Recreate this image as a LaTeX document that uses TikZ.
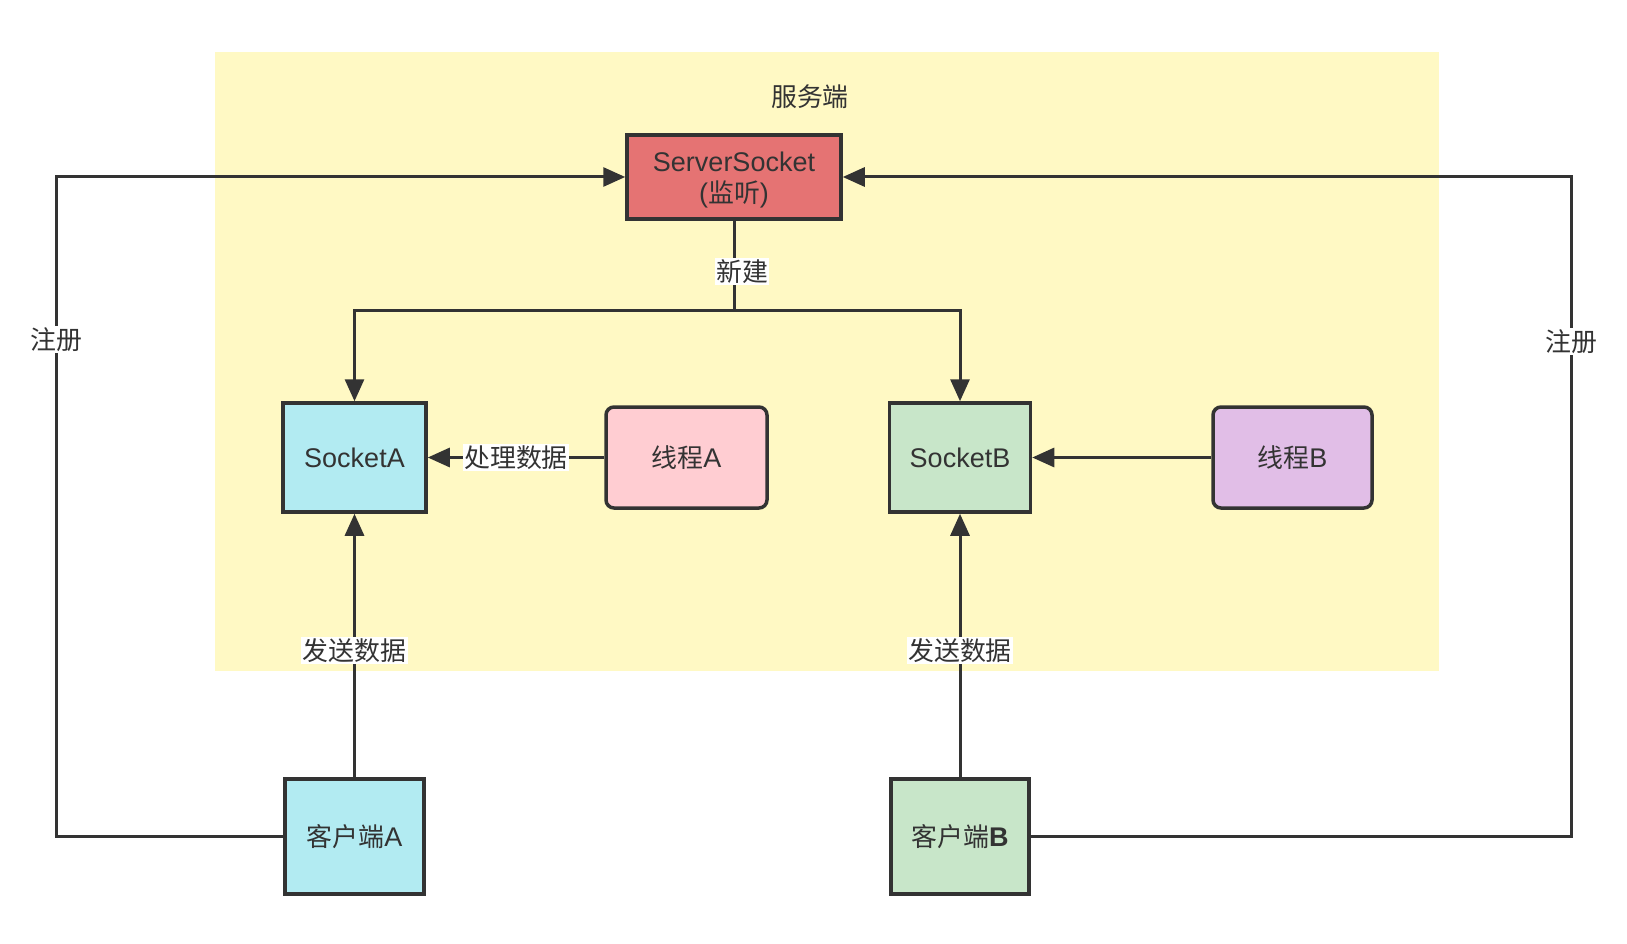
\documentclass[tikz,border=0pt]{standalone}
\usepackage{fontspec}
\setmainfont{Liberation Sans}
\newfontfamily\cjk[Scale=0.96]{Noto Sans CJK SC}
\usetikzlibrary{arrows.meta}
\definecolor{ink}{HTML}{333333}
\definecolor{bgyellow}{HTML}{FFF9C4}
\definecolor{srvred}{HTML}{E57373}
\definecolor{cyanbox}{HTML}{B2EBF2}
\definecolor{greenbox}{HTML}{C8E6C9}
\definecolor{pinkbox}{HTML}{FFCDD2}
\definecolor{purplebox}{HTML}{E1BEE7}
\tikzset{
  box/.style={draw=ink, line width=3.5pt, text=ink, align=center, inner sep=2pt},
  thread/.style={box, rounded corners=8pt},
  conn/.style={draw=ink, line width=3pt},
  arr/.style={conn, -{Triangle[length=22pt,width=19pt]}},
  lbl/.style={fill=white, text=ink, inner sep=1.5pt, font=\fontsize{27}{30}\selectfont\cjk}
}
\begin{document}
\begin{tikzpicture}[x=1pt,y=-1pt, font=\fontsize{27}{31}\selectfont]
\useasboundingbox (0,0) rectangle (1627,944);
\fill[white] (0,0) rectangle (1627,944);
\fill[bgyellow] (215,52) rectangle (1439,671);
\node[text=ink, font=\fontsize{27}{30}\selectfont\cjk] (title) at (810,97) {服务端};

\node[box, fill=srvred, minimum width=214pt, minimum height=84pt] (srv) at (734,177) {\rule{0pt}{26pt}ServerSocket\\({\cjk 监听})};
\node[box, fill=cyanbox, minimum width=143pt, minimum height=109pt] (sa) at (354.5,457.5) {SocketA};
\node[thread, fill=pinkbox, minimum width=161pt, minimum height=101pt] (ta) at (686.5,457.5) {{\cjk 线程}A};
\node[box, fill=greenbox, minimum width=141pt, minimum height=109pt] (sb) at (960,457.5) {SocketB};
\node[thread, fill=purplebox, minimum width=159pt, minimum height=101pt] (tb) at (1292.5,457.5) {{\cjk 线程}B};
\node[box, fill=cyanbox, minimum width=139pt, minimum height=115pt] (ca) at (354.5,836.5) {{\cjk 客户端}A};
\node[box, fill=greenbox, minimum width=138pt, minimum height=115pt] (cb) at (960,836.5) {{\cjk 客户端}\textbf{B}};

\coordinate (br) at (734,310);
\coordinate (lx) at (56,0);
\coordinate (rx) at (1571,0);

\draw[conn] (srv.south) -- node[lbl, pos=0.57, xshift=8pt] {新建} (br);
\draw[arr] (br) -| (sa.north);
\draw[arr] (br) -| (sb.north);
\draw[arr] (ta.west) -- node[lbl] {处理数据} (sa.east);
\draw[arr] (tb.west) -- (sb.east);
\draw[arr] (ca.north) -- node[lbl, pos=0.48] {发送数据} (sa.south);
\draw[arr] (cb.north) -- node[lbl, pos=0.48] {发送数据} (sb.south);
\draw[arr] (ca.west) -- (ca.west -| lx) -- node[lbl, pos=0.754] {注册} (srv.west -| lx) -- (srv.west);
\draw[arr] (cb.east) -- (cb.east -| rx) -- node[lbl, pos=0.751] {注册} (srv.east -| rx) -- (srv.east);
\end{tikzpicture}
\end{document}
